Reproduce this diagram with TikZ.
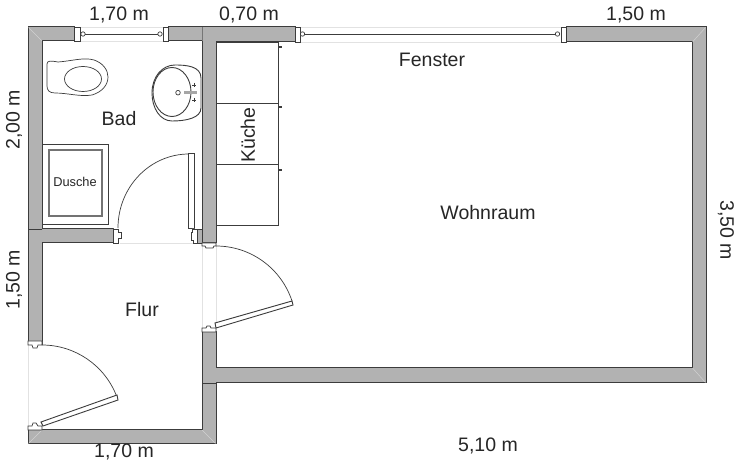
\documentclass[tikz,border=0pt]{standalone}
\usepackage{fontspec}
\setmainfont{Liberation Sans}
\definecolor{wallgray}{HTML}{B2B2B2}
\definecolor{lineD}{HTML}{3C3C3C}
\definecolor{faint}{HTML}{E2E2E2}
\tikzset{
  wall/.style={fill=wallgray,draw=lineD,line width=1pt,line join=miter},
  fix/.style={draw=lineD,line width=0.8pt},
  thin/.style={draw=lineD,line width=0.7pt},
  swing/.style={draw=lineD,line width=0.7pt},
  leaf/.style={fill=white,draw=lineD,line width=0.9pt},
  gap/.style={draw=faint,line width=0.6pt},
  lab/.style={font=\fontsize{19.5}{22}\selectfont,text=black!85,inner sep=0pt},
  jamb/.style={fill=white,draw=lineD,line width=0.7pt},
  miter/.style={draw=white!82!black,line width=0.5pt}
}
\begin{document}
\begin{tikzpicture}[x=1pt,y=-1pt]
\useasboundingbox (0,0) rectangle (740,465);
\fill[white] (0,0) rectangle (740,465);
% opening guide lines
\draw[gap] (80,27)--(164,27) (80,41)--(164,41);
\draw[gap] (300,27)--(561,27) (300,42)--(561,42);
\draw[gap] (120,243)--(196,243);
\draw[gap] (202,243)--(202,330) (216,243)--(216,330);
\draw[gap] (28,345)--(28,430);
% walls
\path[wall] (28,27)--(74,27)--(74,41)--(42,41)--(42,229)--(113,229)--(113,243)--(42,243)--(42,345)--(28,345)--cycle;
\path[wall] (168,27)--(295,27)--(295,42)--(216,42)--(216,243)--(202,243)--(202,41)--(168,41)--cycle;
\path[wall] (566,27)--(706,27)--(706,383)--(216,383)--(216,444)--(28,444)--(28,430)--(202,430)--(202,332)--(216,332)--(216,368)--(692.5,368)--(692.5,42)--(566,42)--cycle;
\draw[miter] (28.5,27.5)--(42,41) (705.5,27.5)--(692.5,42) (705.5,382.5)--(692.5,368) (28.5,443.5)--(42,430) (215.5,443.5)--(202,430);
\draw[thin] (202,383)--(216,383) (28,229)--(42,229);
\draw[draw=lineD!70,line width=0.6pt] (202,27)--(202,41);
% window fittings
\draw[fix,fill=white] (74,27.5) rectangle (80,41);
\draw[fix,fill=white] (163,27.5) rectangle (168,41);
\draw[fix,fill=white] (295,27) rectangle (300,42);
\draw[fix,fill=white] (561,27) rectangle (566,42);
\draw[thin] (85,34)--(158,34) (305,34)--(555,34);
\foreach \n/\x in {a/83,b/160,c/302.5,d/557.5}
  \draw[thin,fill=white] (\x,34) circle (2.2);
% WC
\draw[thin,fill=white] (47,64) .. controls (47,60) and (52,61) .. (58,62)
  .. controls (72,61) and (84,57) .. (94,60) .. controls (103,63) and (108,70) .. (108,77)
  .. controls (108,85) and (102,92) .. (92,95) .. controls (80,97) and (68,93) .. (55,93)
  .. controls (49,93) and (47,90) .. (47,86) -- cycle;
\draw[thin] (83,79) ellipse (18.5 and 12.5);
% basin
\draw[thin,line width=0.9pt] (172,121) .. controls (160,121) and (152,108) .. (152,93)
  .. controls (152,77) and (162,65) .. (175,65)
  .. controls (186,65) and (201,66) .. (201,78)
  -- (201,108) .. controls (201,118) and (186,121) .. (172,121);
\draw[thin,line width=0.9pt] (172,92) ellipse (19 and 24.5);
\draw[thin] (178,92.7) circle (2.3);
\draw[fill=gray!70,draw=none] (184,91) rectangle (197,94.5);
\draw[thin] (194,83)--(194,87) (192,85)--(196,85) (194,98)--(194,102) (192,100)--(196,100);
% shower
\draw[thin,line width=0.8pt,fill=white] (42,144) rectangle (108,224);
\draw[line width=1.2pt,draw=black!55] (49,150) rectangle (102,216);
% bath door
\draw[swing] (118,228) arc[start angle=180,end angle=270,x radius=71,y radius=74];
\draw[leaf] (188,153) rectangle (194,228);
% entrance fittings
\draw[jamb] (113,229)--(118,229)--(118,232)--(121,232)--(121,238)--(118,238)--(118,243)--(113,243)--cycle;
\draw[jamb] (197,229)--(192,229)--(192,232)--(191,232)--(191,240)--(193,240)--(193,243)--(197,243)--cycle;
\draw[fill=gray!60,draw=lineD,line width=0.7pt] (197,229) rectangle (202,243);
% living door
\draw[swing] (216,246) arc[start angle=-90,end angle=-18,radius=80];
\draw[leaf] (215,323)--(292,301)--(293,305)--(216,328)--cycle;
\draw[jamb] (202,243)--(216,243)--(216,246)--(214,246)--(213,248)--(206,248)--(205,246)--(202,246)--cycle;
\draw[jamb] (202,332)--(202,328)--(206,328)--(207,326)--(210,326)--(211,328)--(216,328)--(216,332)--cycle;
% entry door
\draw[swing] (42,345) arc[start angle=-90,end angle=-21,radius=80];
\draw[leaf] (41,422)--(117,395)--(118,400)--(43,426)--cycle;
\draw[jamb] (28,341)--(42,341)--(42,345)--(38,345)--(37,348)--(33,348)--(32,345)--(28,345)--cycle;
\draw[jamb] (28,430)--(42,430)--(42,426)--(38,426)--(36,423)--(33,423)--(32,426)--(28,426)--cycle;
% kitchen
\draw[line width=1pt,draw=lineD,fill=white] (216,42.5) rectangle (278,226);
\draw[line width=1pt,draw=lineD] (216,104)--(278,104) (216,165)--(278,165);
\foreach \y in {47,107,170} \fill[lineD] (279,\y-1) rectangle (282,\y+1.5);
% labels
\node[lab] (m1) at (119,15) {1,70 m};
\node[lab] (m2) at (249,15) {0,70 m};
\node[lab] (m3) at (636,15) {1,50 m};
\node[lab,rotate=90] (m4) at (14,120) {2,00 m};
\node[lab,rotate=90] (m5) at (14,280) {1,50 m};
\node[lab,rotate=-90] (m6) at (726,230) {3,50 m};
\node[lab] (m7) at (124,452) {1,70 m};
\node[lab] (m8) at (488,446) {5,10 m};
\node[lab] (fenster) at (432,60) {Fenster};
\node[lab] (bad) at (119,119) {Bad};
\node[lab] (flur) at (142,310) {Flur};
\node[lab] (wohn) at (488,213) {Wohnraum};
\node[lab,rotate=90] (kueche) at (248,135) {Küche};
\node[lab,font=\fontsize{12.8}{15}\selectfont] (dusche) at (75,182) {Dusche};
\end{tikzpicture}
\end{document}
